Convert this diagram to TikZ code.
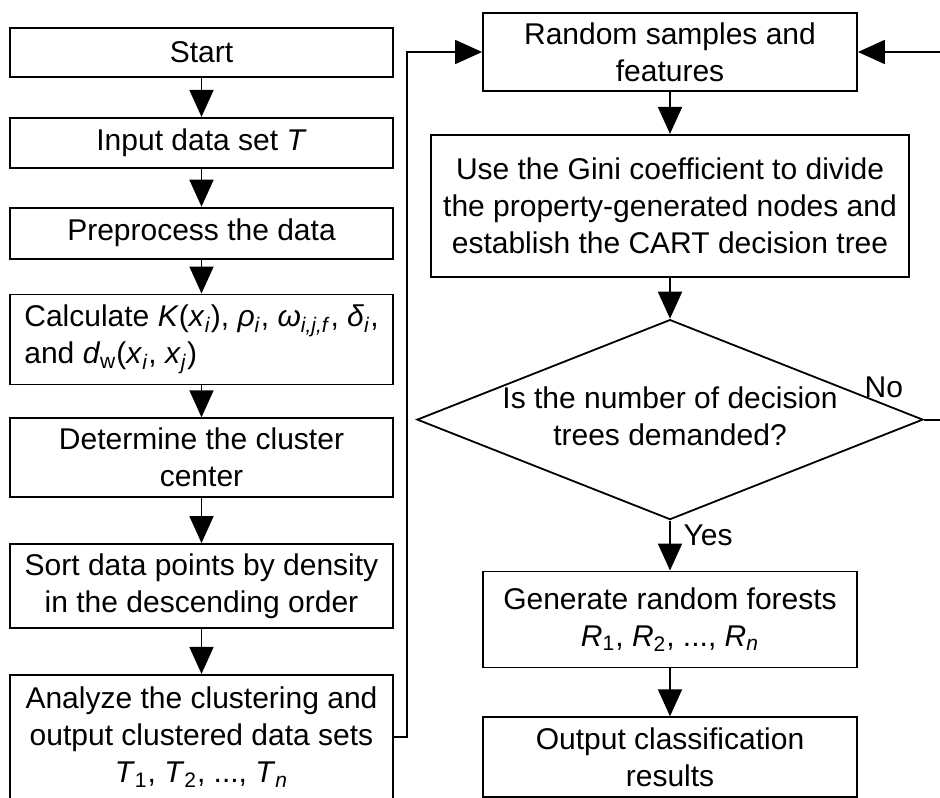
\documentclass[tikz,border=0pt]{standalone}
\usepackage{fontspec}
\setmainfont{Liberation Sans}
\usepackage{tikz}
\usetikzlibrary{shapes.geometric, arrows.meta, positioning, calc}
\tikzstyle{process} = [rectangle, minimum width=191.5pt, text centered, align=center, draw=black, line width=0.9pt, inner sep=2pt]
\tikzstyle{decision} = [diamond, minimum width=253pt, minimum height=100pt, inner sep=0pt, draw=black, line width=0.9pt]
\tikzstyle{arrow} = [line width=0.9pt, -{Triangle[width=12pt,length=13.5pt]}]
\newcommand{\idx}[1]{\textsubscript{\textit{#1}}}

\begin{document}
\begin{tikzpicture}[font=\fontsize{15pt}{18.5pt}\selectfont]
        \useasboundingbox (0,0) rectangle (470pt,-398.5pt);
        \clip (0,0) rectangle (470pt,-398.5pt);
        % Clustering part
        \node (start) [process, minimum height=24.5pt] at (100.75pt,-26.25pt) {Start};
        \node (input) [process, minimum height=25pt, below=19.5pt of start] {Input data set \textit{T}};
        \node (prep) [process, minimum height=25.5pt, below=19pt of input] {Preprocess the data};
        \node (calc) [process, minimum height=45pt, align=left, below=17pt of prep] {Calculate \textit{K}(\textit{x}\idx{i}), \textit{ρ}\idx{i}, \textit{ω}\idx{i,j,f}, \textit{δ}\idx{i},\\and \textit{d}\textsubscript{w}(\textit{x}\idx{i}, \textit{x}\idx{j})};
        \node (clcenter) [process, minimum height=39.5pt, below=16pt of calc] {Determine the cluster\\center};
        \node (sort) [process, minimum height=42pt, below=22.5pt of clcenter] {Sort data points by density\\in the descending order};
        \node (analyze) [process, minimum height=62.5pt, below=22.5pt of sort] {Analyze the clustering and\\output clustered data sets\\\textit{T}\textsubscript{1}, \textit{T}\textsubscript{2}, ..., \textit{T}\idx{n}};

        % Random forest part
        \node (sample) [process, minimum width=187pt, minimum height=39pt] at (335pt,-26pt) {Random samples and\\features};
        \node (gini) [process, minimum width=239pt, minimum height=71pt, below=21pt of sample] {Use the Gini coefficient to divide\\the property-generated nodes and\\establish the CART decision tree};
        \node (check) [decision, below=20.5pt of gini] {\makebox[0pt]{\begin{tabular}{@{}c@{}}Is the number of decision\\trees demanded?\end{tabular}}};
        \node (forest) [process, minimum width=187pt, minimum height=48pt, below=25pt of check] {Generate random forests\\\textit{R}\textsubscript{1}, \textit{R}\textsubscript{2}, ..., \textit{R}\idx{n}};
        \node (output) [process, minimum width=187pt, minimum height=40pt, below=24pt of forest] {Output classification\\results};

        \draw [arrow] (start) -- (input);
        \draw [arrow] (input) -- (prep);
        \draw [arrow] (prep) -- (calc);
        \draw [arrow] (calc) -- (clcenter);
        \draw [arrow] (clcenter) -- (sort);
        \draw [arrow] (sort) -- (analyze);
        \draw [arrow] (analyze.east) -- ++(6.5pt,0) |- (sample.west);
        \draw [arrow] (sample) -- (gini);
        \draw [arrow] (gini) -- (check);
        \draw [arrow] (check) -- node[pos=0, anchor=north west, xshift=3pt, yshift=1.5pt] {Yes} (forest);
        \draw [arrow] (forest) -- (output);
        % Loop back
        \draw [arrow] (check.east) -- node[pos=0, anchor=south east, xshift=-6.7pt, yshift=7.2pt] {No} ++(20pt,0) |- (sample.east);
    \end{tikzpicture}
\end{document}
